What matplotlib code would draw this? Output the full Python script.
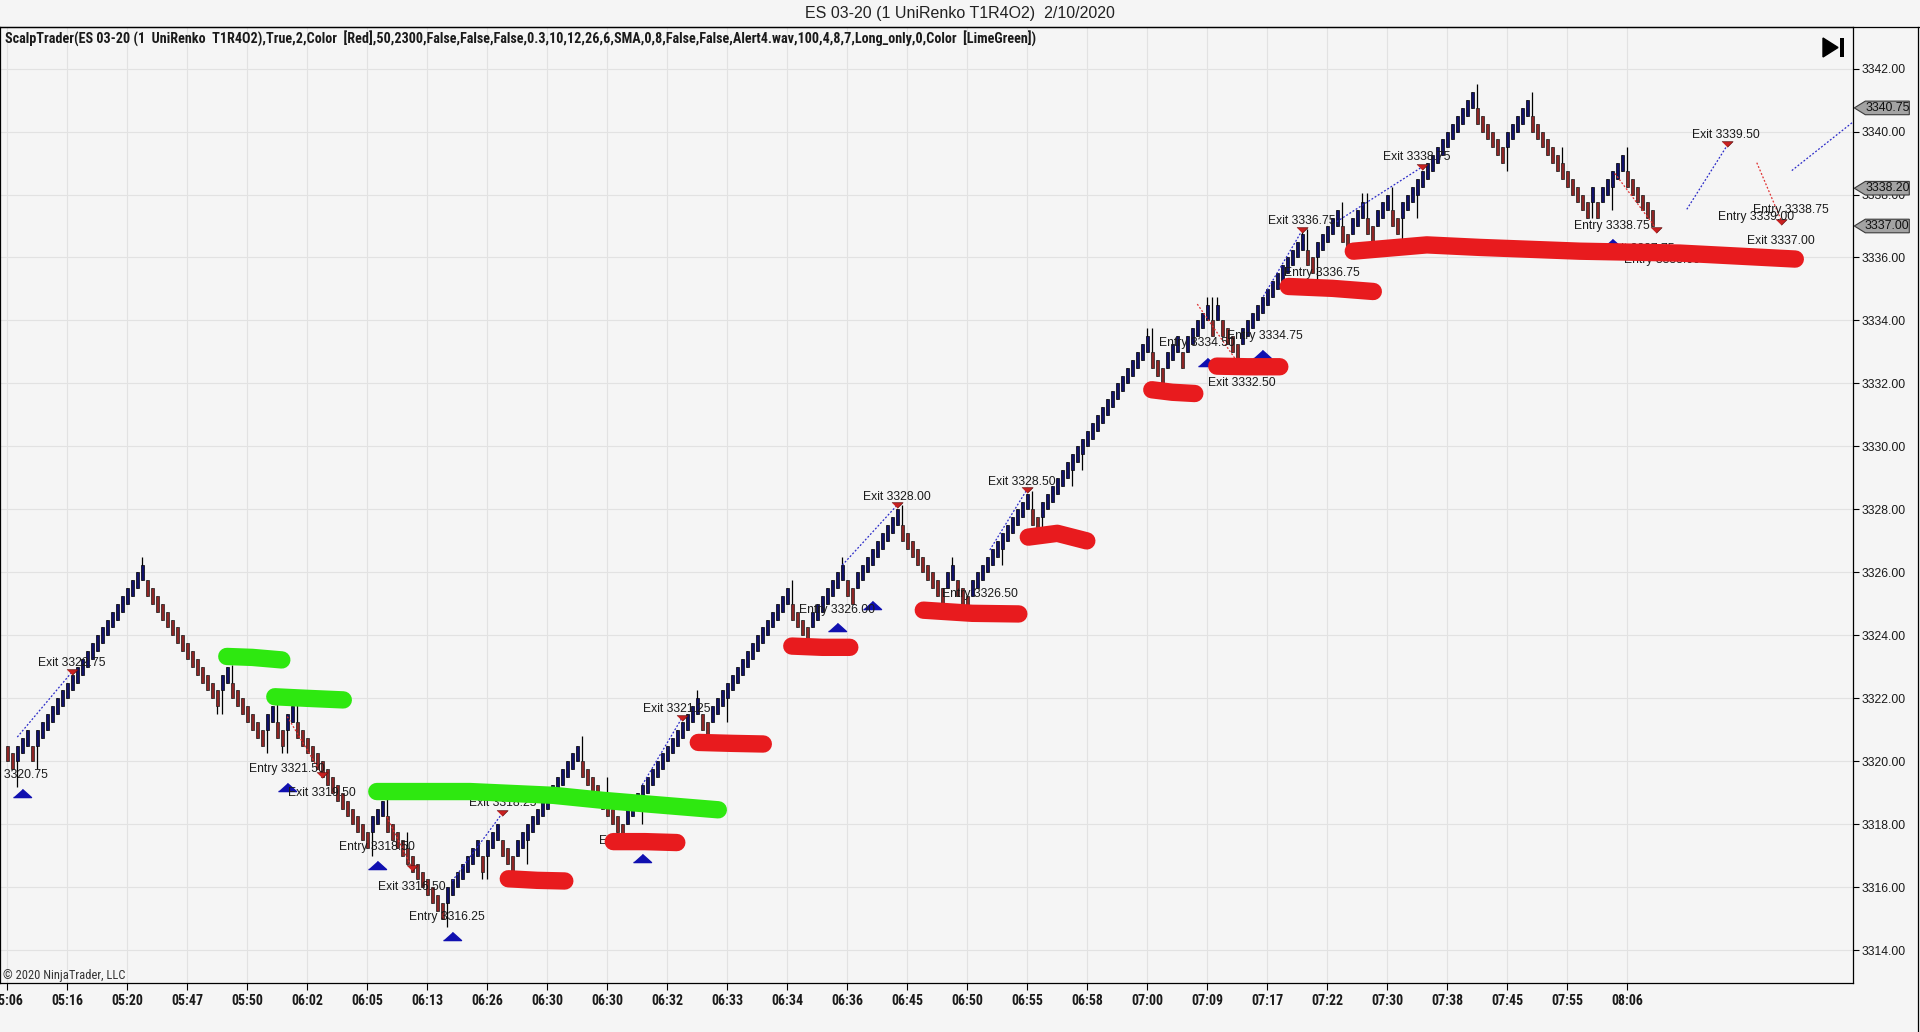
import numpy as np
import matplotlib
matplotlib.use('Agg')
import matplotlib.pyplot as plt
import matplotlib.font_manager as fm
from matplotlib.patches import Polygon, Rectangle
from matplotlib.lines import Line2D

# 字体
available = {f.name for f in fm.fontManager.ttflist}
narrow = None
for name in ['Liberation Sans Narrow', 'Roboto Condensed', 'DejaVu Sans Condensed']:
    if name in available:
        narrow = name
        break
plt.rcParams['font.family'] = ['Liberation Sans', 'DejaVu Sans']
# 没有窄体时用 Liberation Sans 缩小字号代替
hdr_font = narrow if narrow else 'Liberation Sans'
hdr_size = 10.2 if narrow else 7.1

# Renko 收盘价 (每根 bar 一个值)
closes = [
    3320.0, 3319.75, 3320.5, 3320.75, 3321.0, 3320.0,
    3321.0, 3321.25, 3321.5, 3321.75, 3322.0, 3322.25, 3322.5, 3322.75, 3323.0, 3323.25, 3323.5,
    3323.75, 3324.0, 3324.25, 3324.5, 3324.75, 3325.0, 3325.25, 3325.5, 3325.75, 3326.0, 3326.25,
    3325.25, 3325.0, 3324.75, 3324.5, 3324.25, 3324.0, 3323.75, 3323.5, 3323.25, 3323.0, 3322.75,
    3322.5, 3322.25, 3322.0, 3321.75,
    3322.75, 3323.0,
    3322.0, 3321.75, 3321.5, 3321.25, 3321.0, 3320.75, 3320.5,
    3321.5, 3321.75, 3320.75, 3320.5, 3321.5, 3321.75,
    3320.75, 3320.5, 3320.25, 3320.0, 3319.75, 3319.5, 3319.25, 3319.0, 3318.75, 3318.5, 3318.25,
    3318.0, 3317.75, 3317.5, 3317.25,
    3318.25, 3318.5, 3318.75,
    3317.75, 3317.5, 3317.25, 3317.0, 3316.75, 3316.5, 3316.25, 3316.0, 3315.75, 3315.5, 3315.25, 3315.0,
    3316.0, 3316.25, 3316.5, 3316.75, 3317.0, 3317.25, 3317.5,
    3316.5, 3317.5, 3317.75, 3318.0, 3317.0, 3316.75, 3316.5,
    3317.5, 3317.75, 3318.0, 3318.25, 3318.5, 3318.75, 3319.0, 3319.25, 3319.5, 3319.75, 3320.0,
    3320.25, 3320.5,
    3319.5, 3319.25, 3319.0, 3318.75, 3318.5, 3318.25, 3318.0, 3317.75, 3317.5,
    3318.5, 3318.75, 3319.0, 3319.25, 3319.5, 3319.75, 3320.0, 3320.25, 3320.5, 3320.75, 3321.0,
    3321.25, 3321.5, 3321.75, 3322.0,
    3321.0, 3320.75,
    3321.75, 3322.0, 3322.25, 3322.5, 3322.75, 3323.0, 3323.25, 3323.5, 3323.75, 3324.0, 3324.25,
    3324.5, 3324.75, 3325.0, 3325.25, 3325.5,
    3324.5, 3324.25, 3324.0, 3323.75,
    3324.75, 3325.0, 3325.25, 3325.5, 3325.75, 3326.0, 3326.25,
    3325.25, 3325.0,
    3326.0, 3326.25, 3326.5, 3326.75, 3327.0, 3327.25, 3327.5, 3327.75, 3328.0,
    3327.0, 3326.75, 3326.5, 3326.25, 3326.0, 3325.75, 3325.5, 3325.25, 3325.0,
    3326.0, 3326.25,
    3325.25, 3325.0, 3324.75,
    3325.75, 3326.0, 3326.25, 3326.5, 3326.75, 3327.0, 3327.25, 3327.5, 3327.75, 3328.0, 3328.25, 3328.5,
    3327.5, 3327.25,
    3328.25, 3328.5, 3328.75, 3329.0, 3329.25, 3329.5, 3329.75, 3330.0, 3330.25, 3330.5, 3330.75,
    3331.0, 3331.25, 3331.5, 3331.75, 3332.0, 3332.25, 3332.5, 3332.75, 3333.0, 3333.25, 3333.5,
    3332.5, 3332.25, 3332.0,
    3333.0, 3333.25, 3333.5,
    3332.5,
    3333.5, 3333.75, 3334.0, 3334.25, 3334.5,
    3333.5, 3334.5,
    3333.5, 3333.25, 3333.0, 3332.75,
    3333.75, 3334.0, 3334.25, 3334.5, 3334.75, 3335.0, 3335.25, 3335.5, 3335.75, 3336.0, 3336.25,
    3336.5, 3336.75,
    3335.75, 3335.5,
    3336.5, 3336.75, 3337.0, 3337.25, 3337.5,
    3336.5, 3336.25,
    3337.25, 3337.5, 3337.75,
    3336.75, 3336.5,
    3337.5, 3337.75, 3338.0,
    3337.0, 3336.75,
    3337.75, 3338.0, 3338.25, 3338.5, 3338.75, 3339.0, 3339.25, 3339.5, 3339.75, 3340.0, 3340.25,
    3340.5, 3340.75, 3341.0, 3341.25,
    3340.25, 3340.0, 3339.75, 3339.5, 3339.25, 3339.0,
    3340.0, 3340.25, 3340.5, 3340.75, 3341.0,
    3340.0, 3339.75, 3339.5, 3339.25, 3339.0, 3338.75, 3338.5, 3338.25, 3338.0, 3337.75, 3337.5, 3337.25,
    3338.25, 3337.25,
    3338.25, 3338.5, 3338.75, 3339.0, 3339.25,
    3338.25, 3338.0, 3337.75, 3337.5, 3337.25, 3337.0,
]

# 影线
wick_hi_idx = [27, 45, 54, 58, 76, 80, 115, 120, 138, 157, 167, 179, 189, 205, 228, 229, 240, 241,
               242, 259, 260, 267, 271, 272, 277, 294, 305, 311, 324]
wick_hi_val = [3326.5, 3323.05, 3321.85, 3322.0, 3318.85, 3317.75, 3320.8, 3319.5, 3322.25, 3325.75,
               3326.5, 3328.15, 3326.5, 3328.6, 3333.75, 3333.75, 3334.75, 3334.75, 3334.75, 3336.9,
               3336.9, 3337.75, 3338.05, 3338.05, 3338.25, 3341.5, 3341.25, 3339.5, 3339.5]
wick_lo_idx = [2, 6, 42, 43, 52, 55, 56, 73, 88, 95, 96, 104, 127, 140, 144, 197, 199, 206, 207, 213,
               215, 262, 279, 282, 300, 317, 321]
wick_lo_val = [3319.2, 3319.75, 3321.5, 3321.5, 3320.25, 3320.25, 3320.25, 3317.0, 3314.75, 3316.25,
               3316.25, 3316.75, 3318.0, 3320.5, 3321.25, 3326.25, 3326.25, 3327.25, 3327.25, 3328.75,
               3329.25, 3335.3, 3336.5, 3337.25, 3338.75, 3337.25, 3337.5]

# 时间刻度
time_labels = ['05:06', '05:16', '05:20', '05:47', '05:50', '06:02', '06:05', '06:13', '06:26',
               '06:30', '06:30', '06:32', '06:33', '06:34', '06:36', '06:45', '06:50', '06:55',
               '06:58', '07:00', '07:09', '07:17', '07:22', '07:30', '07:38', '07:45', '07:55', '08:06']

# 交易标注
trade_text = ['Entry 3320.75', 'Exit 3322.75', 'Entry 3321.50', 'Exit 3319.50', 'Entry 3318.50',
              'Exit 3316.50', 'Entry 3316.25', 'Exit 3318.25', 'Entry 3317.75', 'Exit 3321.25',
              'Entry 3326.00', 'Exit 3328.00', 'Entry 3326.50', 'Exit 3328.50', 'Entry 3334.50',
              'Exit 3332.50', 'Entry 3334.75', 'Exit 3336.75', 'Entry 3336.75', 'Exit 3338.75',
              'Entry 3338.75', 'Exit 3337.75', 'Entry 3338.00', 'Exit 3339.50', 'Entry 3339.00',
              'Entry 3338.75', 'Exit 3337.00']
trade_x = [0.5, 12.9, 55.9, 62.9, 73.9, 80.9, 87.9, 99, 125.9, 133.9, 165.9, 177.9, 194.5, 202.9,
           237.9, 246.9, 251.5, 258.9, 262.9, 281.9, 320.9, 326.7, 330.9, 343.7, 349.7, 356.7, 354.7]
trade_y = [3319.55, 3323.13, 3319.76, 3319.0, 3317.29, 3316.02, 3315.05, 3318.67, 3317.47, 3321.65,
           3324.81, 3328.39, 3325.3, 3328.88, 3333.28, 3332.0, 3333.52, 3337.17, 3335.52, 3339.2,
           3337.01, 3336.28, 3335.93, 3339.89, 3337.3, 3337.51, 3336.53]

entry_x = [3, 55.9, 73.9, 89, 127, 165.9, 173, 239.9, 250.9, 321]
entry_y = [3318.99, 3319.18, 3316.71, 3314.45, 3316.92, 3324.25, 3324.97, 3332.69, 3332.94, 3336.47]
exit_x = [13, 62.9, 81, 99, 134.9, 178, 204, 259, 283, 329.7, 343.9, 354.7]
exit_y = [3322.85, 3319.57, 3316.6, 3318.35, 3321.37, 3328.14, 3328.62, 3336.87, 3338.88, 3336.87,
          3339.6, 3337.14]

win_lines = [(2, 3320.77, 13, 3322.85), (89, 3316.2, 99, 3318.35), (127, 3319.25, 134.9, 3321.37),
             (167, 3326.23, 178, 3328.14), (196.5, 3326.71, 203.9, 3328.62),
             (251.2, 3334.76, 259, 3336.87), (265.9, 3337.14, 283, 3338.88),
             (335.9, 3337.53, 343.9, 3339.54), (356.9, 3338.76, 369.2, 3340.31)]
loss_lines = [(56, 3321.42, 63, 3319.56), (75.9, 3318.24, 81, 3316.6), (238, 3334.52, 245.5, 3332.8),
              (321.5, 3338.67, 329.5, 3336.98), (349.9, 3339.01, 354.9, 3337.14)]

# 手绘标记
green_marks = [
    ([43.9, 49, 54.9], [3323.33, 3323.3, 3323.22]),
    ([53.5, 60, 67.2], [3322.05, 3322.0, 3321.95]),
    ([73.9, 92.5, 109.2, 119.2, 142.2], [3319.04, 3319.04, 3318.92, 3318.76, 3318.46]),
]
red_marks = [
    ([100.2, 106, 111.5], [3316.27, 3316.22, 3316.2]),
    ([121.2, 127.5, 133.9], [3317.45, 3317.45, 3317.42]),
    ([138.2, 145, 151.2], [3320.6, 3320.57, 3320.55]),
    ([156.9, 163, 168.5], [3323.66, 3323.62, 3323.62]),
    ([183.2, 193, 202.3], [3324.8, 3324.7, 3324.68]),
    ([204.2, 210, 215.9], [3327.12, 3327.24, 3327.0]),
    ([228.9, 233, 237.5], [3331.8, 3331.72, 3331.68]),
    ([241.9, 248, 254.5], [3332.55, 3332.53, 3332.53]),
    ([256.2, 265, 273.2], [3335.08, 3335.02, 3334.92]),
    ([269.2, 283.9, 294.5, 314.5, 334.5, 357.6], [3336.2, 3336.4, 3336.32, 3336.2, 3336.14, 3335.95]),
]

flag_prices = [3340.75, 3338.20, 3337.00]

# ---------------------------------------------------------------
W, H = 1920, 1032
bg = '#f5f5f5'
fig = plt.figure(figsize=(W / 100, H / 100), dpi=100, facecolor=bg)
ax_left, ax_right, ax_top, ax_bot = 0, 1853.3, 27.3, 983
ax = fig.add_axes([ax_left / W, 1 - ax_bot / H, (ax_right - ax_left) / W, (ax_bot - ax_top) / H])
ax.set_facecolor(bg)

c = np.array(closes)
idx = np.arange(len(c))
up = np.r_[False, np.diff(c) > 0]
opens = np.where(up, c - 0.5, c + 0.5)
hi = np.maximum(opens, c)
lo = np.minimum(opens, c)
for i, v in zip(wick_hi_idx, wick_hi_val):
    hi[i] = max(hi[i], v)
for i, v in zip(wick_lo_idx, wick_lo_val):
    lo[i] = min(lo[i], v)

ax.vlines(idx, lo, hi, color='black', lw=0.9, zorder=2)
ax.bar(idx[up], (c - opens)[up], bottom=opens[up], width=0.6, color='#10106a',
       edgecolor='black', linewidth=0.5, zorder=3)
ax.bar(idx[~up], (opens - c)[~up], bottom=c[~up], width=0.6, color='#8e2424',
       edgecolor='#1e1e1e', linewidth=0.5, zorder=3)

# 交易连线
for x0, y0, x1, y1 in win_lines:
    ax.plot([x0, x1], [y0, y1], ls=(0, (1.5, 1.5)), color='#2a2ac8', lw=0.9, zorder=4)
for x0, y0, x1, y1 in loss_lines:
    ax.plot([x0, x1], [y0, y1], ls=(0, (1.5, 1.5)), color='#e03030', lw=0.9, zorder=4)

up_tri = [(-1, -0.45), (1, -0.45), (0, 0.45)]
dn_tri = [(-1, 0.5), (1, 0.5), (0, -0.5)]
ax.plot(entry_x, entry_y, ls='none', marker=up_tri, markersize=13, color='#1010b0',
        markeredgecolor='#1010b0', zorder=5)
ax.plot(exit_x, exit_y, ls='none', marker=dn_tri, markersize=8, color='#c82020',
        markeredgecolor='#601010', markeredgewidth=0.5, zorder=5)

for s, x, y in zip(trade_text, trade_x, trade_y):
    ax.text(x, y, s, ha='center', va='center', fontsize=8.7, color='#1a1a1a', zorder=6)

# 手绘标记
for xs, ys in green_marks:
    ax.plot(xs, ys, color='#2ee810', lw=12.5, solid_capstyle='round', solid_joinstyle='round',
            zorder=7)
for xs, ys in red_marks:
    ax.plot(xs, ys, color='#e81b1e', lw=12.5, solid_capstyle='round', solid_joinstyle='round',
            zorder=7)

# 坐标轴
ax.set_xlim(-1.46, 369.2)
ax.set_ylim(3312.96, 3343.31)
ax.set_xticks(np.arange(0, 12 * len(time_labels), 12))
ax.set_xticklabels(time_labels, fontfamily=hdr_font, fontweight='bold',
                   fontsize=10 if narrow else 8.8, color='#1a1a1a')
yt = np.arange(3314, 3343, 2)
ax.yaxis.tick_right()
ax.set_yticks(yt)
ax.set_yticklabels([f'{v:.2f}' for v in yt], fontsize=8.7, color='#1a1a1a')
ax.tick_params(axis='x', direction='out', length=5, width=0.8, pad=3)
ax.tick_params(axis='y', direction='out', length=4, width=0.8, pad=2)
ax.grid(True, color='#e2e2e2', lw=0.8)
ax.set_axisbelow(True)
for sp in ax.spines.values():
    sp.set_linewidth(0.9)
    sp.set_color('black')

# 右侧价格标签
ytr = ax.get_yaxis_transform()
px = 1.0 / (ax_right - ax_left)
hh = 6.8 / 31.49
for p in flag_prices:
    pts = [(1 + 1 * px, p), (1 + 12 * px, p + hh), (1 + 56 * px, p + hh),
           (1 + 56 * px, p - hh), (1 + 12 * px, p - hh)]
    ax.add_patch(Polygon(pts, closed=True, transform=ytr, facecolor='#a3a3a3',
                         edgecolor='#3a3a3a', lw=0.8, clip_on=False, zorder=8))
    ax.text(1 + 34 * px, p, f'{p:.2f}', transform=ytr, ha='center', va='center',
            fontsize=8.9, color='#111111', clip_on=False, zorder=9)

# 标题与说明
fig.text(0.5, 1 - 13.5 / H, 'ES 03-20 (1 UniRenko T1R4O2)  2/10/2020', ha='center', va='center',
         fontsize=11.5, color='#222222')
ax.text(5 * px, 1 - (39 - ax_top) / (ax_bot - ax_top),
        'ScalpTrader(ES 03-20 (1  UniRenko  T1R4O2),True,2,Color  [Red],50,2300,False,False,False,'
        '0.3,10,12,26,6,SMA,0,8,False,False,Alert4.wav,100,4,8,7,Long_only,0,Color  [LimeGreen])',
        transform=ax.transAxes, ha='left', va='center', fontsize=hdr_size, fontweight='bold',
        fontfamily=hdr_font, color='#1a1a1a', zorder=9)
ax.text(3 * px, (983 - 976) / (ax_bot - ax_top), '\u00a9 2020 NinjaTrader, LLC',
        transform=ax.transAxes, ha='left', va='center', fontsize=9 if narrow else 7.5,
        fontfamily=hdr_font, color='#333333', zorder=9)

# 边框与图标
fig.add_artist(Line2D([0, 1], [1 - ax_top / H, 1 - ax_top / H], color='black', lw=0.9,
                      transform=fig.transFigure))
fig.add_artist(Line2D([1918 / W, 1918 / W], [0, 1 - ax_top / H], color='black', lw=0.9,
                      transform=fig.transFigure))
tri = [(1823 / W, 1 - 38 / H), (1823 / W, 1 - 57 / H), (1838 / W, 1 - 47.5 / H)]
fig.add_artist(Polygon(tri, closed=True, facecolor='black', edgecolor='black',
                       transform=fig.transFigure))
fig.add_artist(Rectangle((1840 / W, 1 - 57 / H), 4 / W, 19 / H, facecolor='black',
                         transform=fig.transFigure))

fig.savefig('out.png', dpi=100, facecolor=bg)
